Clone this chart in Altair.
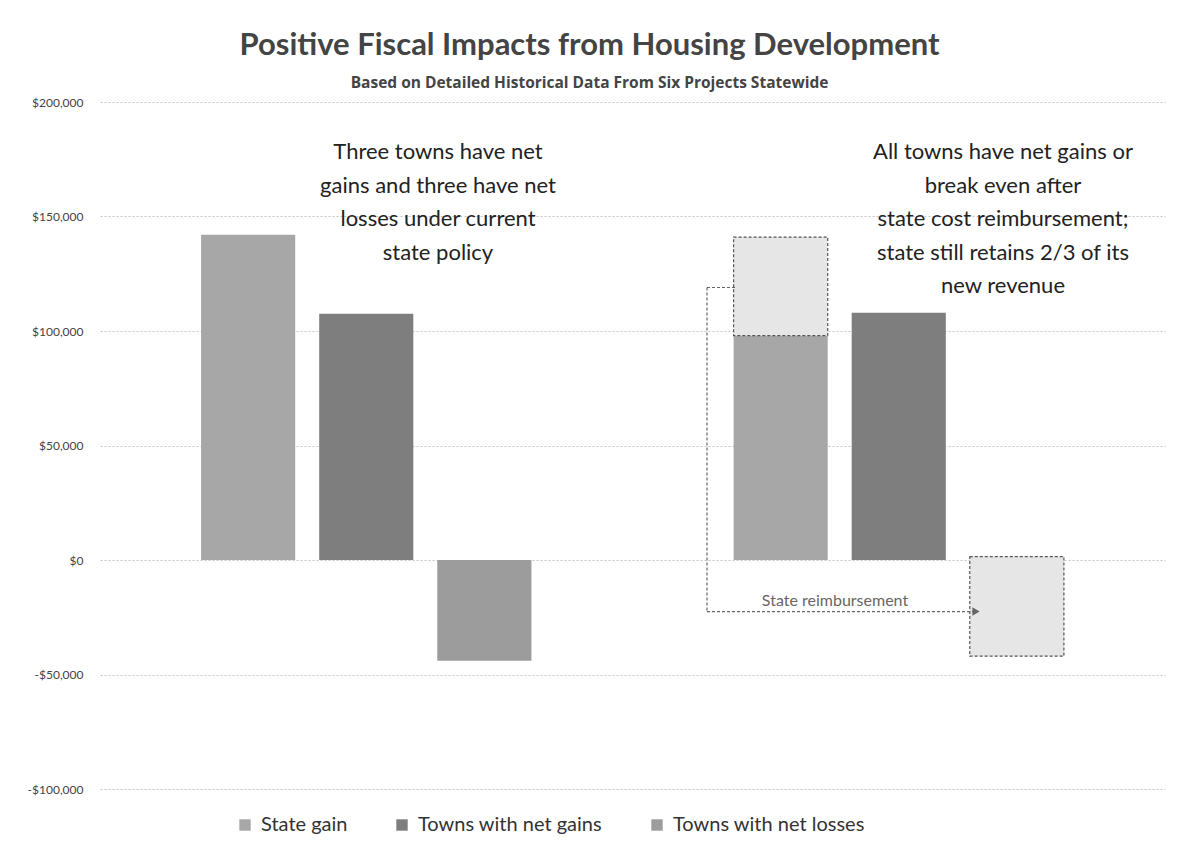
import altair as alt
import pandas as pd

# ---- data ----
groups = ["Current state policy", "With state cost reimbursement"]
series = ["State gain", "Towns with net gains", "Towns with net losses"]
current_policy = [142000, 107500, -44000]
with_reimbursement = [98000, 108000, None]

# hatched "reimbursement" boxes (right group)
reimb_series = ["State gain", "Towns with net losses"]
reimb_from = [98000, 1500]
reimb_to = [141000, -42000]

# elbow arrow (data y values)
arrow_y_start = 119000
arrow_y_end = -22500

colors = ["#a7a7a7", "#7e7e7e", "#9c9c9c"]

left_note = ["Three towns have net", "gains and three have net", "losses under current", "state policy"]
right_note = ["All towns have net gains or", "break even after", "state cost reimbursement;",
              "state still retains 2/3 of its", "new revenue"]

FONT = "Lato"

rows = []
for s, v in zip(series, current_policy):
    if v is not None:
        rows.append({"group": groups[0], "series": s, "value": v})
for s, v in zip(series, with_reimbursement):
    if v is not None:
        rows.append({"group": groups[1], "series": s, "value": v})
bars_df = pd.DataFrame(rows)

reimb_df = pd.DataFrame({"group": [groups[1]] * len(reimb_series), "series": reimb_series,
                         "y_from": reimb_from, "y_to": reimb_to})
arrow_df = pd.DataFrame({"y_start": [arrow_y_start], "y_end": [arrow_y_end]})

x_enc = alt.X("group:N", scale=alt.Scale(domain=groups, paddingInner=0, paddingOuter=0), axis=None)
xo_enc = alt.XOffset("series:N", scale=alt.Scale(domain=series, paddingInner=0.203, paddingOuter=0.856))
y_scale = alt.Scale(domain=[-100000, 200000], nice=False, zero=False)

y_axis = alt.Axis(
    values=[-100000, -50000, 0, 50000, 100000, 150000, 200000],
    labelExpr="datum.value < 0 ? '-$' + format(-datum.value, ',') : '$' + format(datum.value, ',')",
    title=None, domain=False, ticks=False, tickSize=0, labelPadding=17,
    labelFont=FONT, labelFontSize=12, labelColor="#444",
    grid=True, gridColor="#c4c4c4", gridDash=[2, 2], gridWidth=1,
    minExtent=82, maxExtent=82,
)

bars = alt.Chart(bars_df).mark_bar().encode(
    x=x_enc,
    xOffset=xo_enc,
    y=alt.Y("value:Q", scale=y_scale, axis=y_axis),
    color=alt.Color("series:N", scale=alt.Scale(domain=series, range=colors),
                    legend=alt.Legend(orient="none", legendX=135, legendY=713, direction="horizontal",
                                      title=None, symbolType="square", symbolSize=130,
                                      symbolStrokeWidth=0, labelFont=FONT, labelFontSize=20,
                                      labelColor="#333", columnPadding=44, labelOffset=6,
                                      labelLimit=0)),
)

reimb = alt.Chart(reimb_df).mark_bar(fill="#e6e6e6", stroke="#555555", strokeDash=[3, 2],
                                     strokeWidth=1.2).encode(
    x=x_enc,
    xOffset=xo_enc,
    y=alt.Y("y_from:Q", scale=y_scale),
    y2="y_to:Q",
)

arrow_style = dict(color="#666666", strokeDash=[3, 2], strokeWidth=1.2)
arrow_top = alt.Chart(arrow_df).mark_rule(**arrow_style).encode(
    x=alt.value(607), x2=alt.value(635), y=alt.Y("y_start:Q", scale=y_scale))
arrow_down = alt.Chart(arrow_df).mark_rule(**arrow_style).encode(
    x=alt.value(607), y=alt.Y("y_start:Q", scale=y_scale), y2="y_end:Q")
arrow_right = alt.Chart(arrow_df).mark_rule(**arrow_style).encode(
    x=alt.value(607), x2=alt.value(874), y=alt.Y("y_end:Q", scale=y_scale))
arrow_head = alt.Chart(arrow_df).mark_point(shape="triangle-right", filled=True, color="#666666",
                                            size=70, opacity=1).encode(
    x=alt.value(876), y=alt.Y("y_end:Q", scale=y_scale))
arrow_text = alt.Chart(arrow_df).mark_text(text="State reimbursement", font=FONT, fontSize=16,
                                           color="#666666", align="center", baseline="alphabetic").encode(
    x=alt.value(735), y=alt.value(504))

note_left = alt.Chart(arrow_df).mark_text(text=left_note, font=FONT, fontSize=22, color="#222",
                                          align="center", baseline="alphabetic", lineHeight=33.5).encode(
    x=alt.value(338), y=alt.value(57))
note_right = alt.Chart(arrow_df).mark_text(text=right_note, font=FONT, fontSize=22, color="#222",
                                           align="center", baseline="alphabetic", lineHeight=33.5).encode(
    x=alt.value(903), y=alt.value(57))

chart = alt.layer(
    bars, reimb, arrow_top, arrow_down, arrow_right, arrow_head, arrow_text, note_left, note_right
).properties(
    width=1065, height=687,
    view=alt.ViewConfig(stroke="transparent", strokeWidth=0),
    title=alt.TitleParams(
        text="Positive Fiscal Impacts from Housing Development",
        subtitle="Based on Detailed Historical Data From Six Projects Statewide",
        anchor="middle", dx=-43, font=FONT, fontSize=31, fontWeight="bold", color="#444",
        subtitleFont="Open Sans", subtitleFontSize=15.5, subtitleFontWeight="bold", subtitleColor="#444",
        subtitlePadding=14, offset=4,
    ),
    padding={"left": 10, "top": 21, "right": 5, "bottom": 5},
).configure_view(stroke="transparent", strokeWidth=0).configure(background="white")

chart.save("out.html", embed_options={"renderer": "svg", "actions": False})
